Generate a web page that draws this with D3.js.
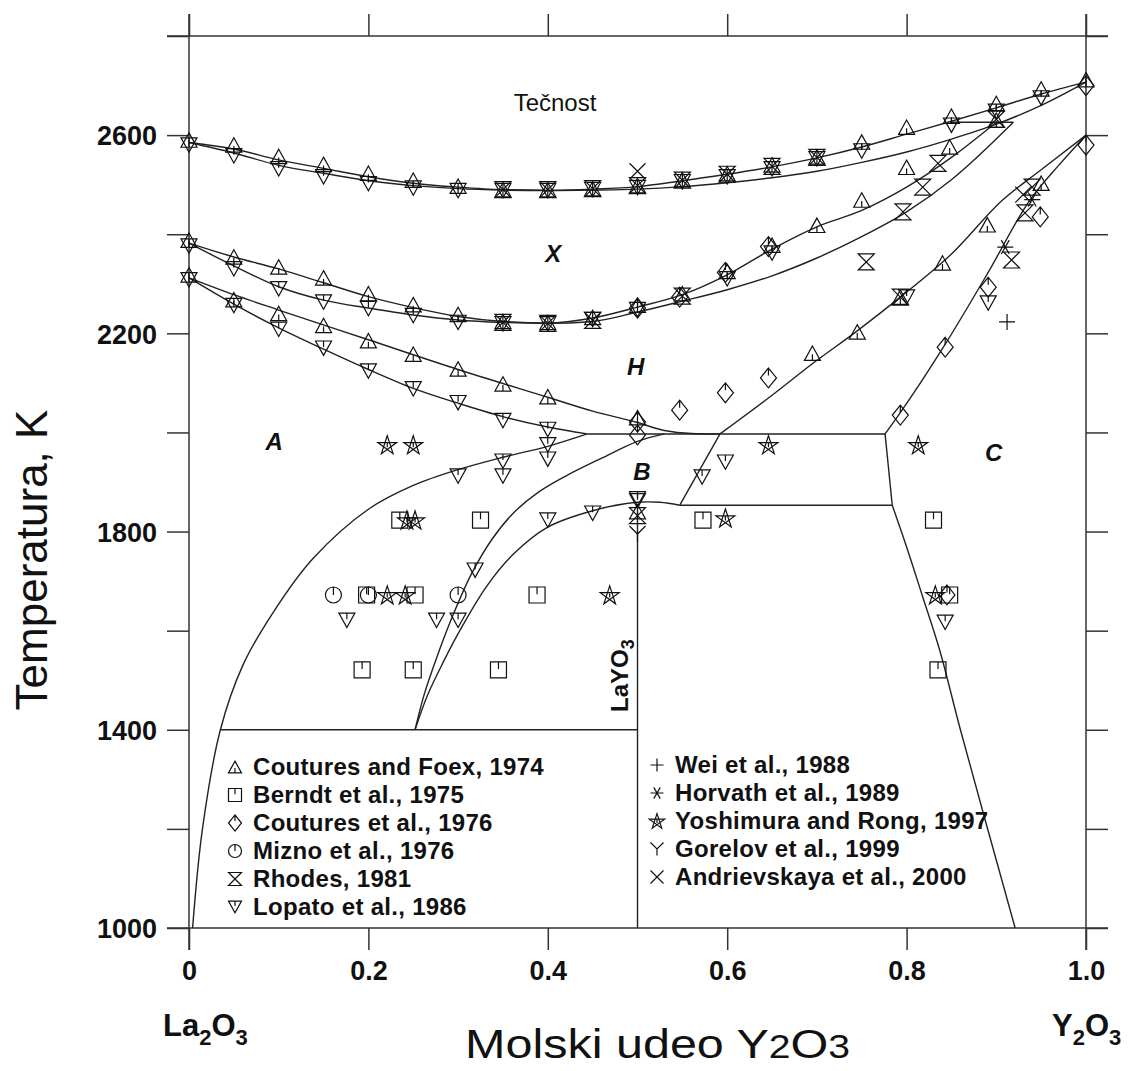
<!DOCTYPE html>
<html><head><meta charset="utf-8">
<script src="https://cdn.jsdelivr.net/npm/d3@7"></script>
<style>
body{margin:0;background:#fff}
svg{display:block}
text{font-family:"Liberation Sans",Arial,Helvetica,sans-serif;fill:#111}
</style></head><body>
<svg id="chart" width="1133" height="1071"></svg>
<script>
// phase boundaries [mole fraction Y2O3, T in K]
var liquidus = [[0,2585],[0.05,2572],[0.1,2550],[0.15,2533],[0.2,2516],[0.25,2503],[0.3,2495],[0.35,2490],[0.4,2489],[0.45,2491],[0.5,2496],[0.55,2508],[0.6,2521],[0.65,2536],[0.7,2554],[0.75,2576],[0.8,2602],[0.85,2628],[0.9,2655],[0.95,2683],[1,2707]];
var solidus = [[0,2585],[0.05,2564],[0.1,2539],[0.15,2523],[0.2,2508],[0.25,2498],[0.3,2492],[0.35,2489],[0.4,2488],[0.45,2489],[0.5,2491],[0.55,2496],[0.6,2504],[0.65,2514],[0.7,2527],[0.75,2545],[0.8,2566],[0.85,2592],[0.9,2622],[0.95,2660],[1,2707]];
var peritectic = [[0.848,2626],[0.919,2626]];
var xUpper = [[0,2382],[0.05,2354],[0.1,2330],[0.15,2302],[0.2,2274],[0.25,2252],[0.3,2234],[0.35,2224],[0.4,2221],[0.45,2231],[0.5,2253],[0.55,2278],[0.6,2318],[0.65,2370],[0.7,2415],[0.75,2448],[0.8,2495],[0.85,2555],[0.9,2626]];
var xLower = [[0,2382],[0.05,2336],[0.1,2294],[0.15,2267],[0.2,2251],[0.25,2237],[0.3,2227],[0.35,2222],[0.4,2220],[0.45,2224],[0.5,2243],[0.55,2265],[0.6,2288],[0.65,2316],[0.7,2352],[0.75,2395],[0.8,2445],[0.85,2510],[0.919,2626]];
var hUpper = [[0,2312],[0.05,2278],[0.1,2247],[0.2,2187],[0.3,2127],[0.4,2071],[0.45,2043],[0.5,2020],[0.53,2004],[0.56,1998],[0.592,1997]];
var hLower = [[0,2312],[0.05,2259],[0.1,2211],[0.15,2168],[0.2,2127],[0.25,2089],[0.3,2059],[0.35,2032],[0.4,2011],[0.444,1997]];
var eutectoidHigh = [[0.444,1997],[0.776,1997]];
var aBoundary = [[0.004,1000],[0.015,1200],[0.035,1400],[0.06,1530],[0.095,1640],[0.138,1745],[0.2,1845],[0.25,1893],[0.3,1925],[0.35,1950],[0.4,1972],[0.444,1997]];
var bLeft = [[0.252,1400],[0.262,1470],[0.276,1545],[0.294,1630],[0.315,1715],[0.338,1785],[0.362,1838],[0.39,1880],[0.42,1912],[0.46,1948],[0.5,1982],[0.53,1997]];
var bRight = [[0.252,1400],[0.266,1470],[0.283,1535],[0.305,1610],[0.332,1690],[0.362,1755],[0.399,1808],[0.45,1842],[0.5,1859],[0.525,1859],[0.547,1853]];
var eutectoidLow = [[0.547,1853],[0.784,1853]];
var layo3Line = [[0.5,1853],[0.5,1000]];
var bhLink = [[0.547,1853],[0.592,1997]];
var cStep = [[0.776,1997],[0.784,1853]];
var cLow = [[0.784,1853],[0.8,1769],[0.818,1668],[0.837,1560],[0.86,1400],[0.921,1000]];
var hcUpper = [[0.592,1997],[0.65,2075],[0.696,2140],[0.745,2205],[0.793,2273],[0.85,2360],[0.907,2469],[0.95,2530],[1,2600]];
var cHigh = [[0.776,1997],[0.793,2040],[0.841,2172],[0.89,2320],[0.9375,2469],[0.97,2540],[1,2600]];
var line1400 = [[0.035,1400],[0.5,1400]];

// experimental points
var cf74 = [[0,2590],[0.05,2580],[0.1,2557],[0.15,2541],[0.2,2523],[0.25,2509],[0.3,2497],[0.35,2490],[0.4,2490],[0.45,2492],[0.5,2498],[0.55,2510],[0.6,2522],[0.65,2540],[0.7,2556],[0.75,2586],[0.8,2616],[0.85,2638],[0.9,2664],[0.95,2693],[1,2712],
  [0.75,2469],[0.8,2535],[0.848,2576],[0.9,2630],[0.95,2503],[0.89,2419],[0.84,2342],[0.745,2203],[0.695,2160],[0.793,2273],
  [0,2388],[0.05,2354],[0.1,2334],[0.15,2312],[0.2,2280],[0.25,2258],[0.3,2238],[0.35,2224],[0.4,2222],[0.45,2232],[0.5,2257],[0.55,2280],[0.6,2325],[0.65,2378],[0.7,2418],
  [0,2318],[0.05,2268],[0.1,2240],[0.15,2216],[0.2,2185],[0.25,2158],[0.3,2128],[0.35,2098],[0.4,2072],[0.5,2030],[0.5,1840]];
var berndt75 = [[0.235,1823],[0.325,1823],[0.198,1672],[0.252,1672],[0.388,1672],[0.193,1521],[0.25,1521],[0.345,1521],[0.573,1823],[0.83,1823],[0.835,1521],[0.848,1672]];
var coutures76 = [[0.646,2110],[0.598,2080],[0.547,2045],[0.5,2021],[0.5,1995],[0.793,2035],[0.843,2172],[0.891,2293],[0.949,2435],[0.646,2375],[0.598,2323],[0.547,2273],[0.5,2251],[0.845,1672],[1,2700],[1,2580]];
var mizno76 = [[0.161,1672],[0.2,1672],[0.3,1672]];
var rhodes81 = [[0.35,2490],[0.4,2490],[0.45,2492],[0.5,2498],[0.55,2509],[0.6,2521],[0.65,2537],[0.7,2555],[0.35,2222],[0.4,2220],[0.45,2226],[0.55,2275],
  [0.835,2543],[0.818,2495],[0.796,2445],[0.9,2632],[0.94,2495],[0.932,2443],[0.917,2348],[0.755,2344],[0.793,2273],[0.5,1832]];
var lopato86 = [[0,2580],[0.05,2558],[0.1,2532],[0.15,2516],[0.2,2502],[0.25,2493],[0.3,2488],[0.35,2488],[0.4,2488],[0.45,2490],[0.5,2494],[0.55,2506],[0.6,2516],[0.65,2532],[0.7,2552],[0.75,2568],[0.85,2620],[0.9,2648],[0.95,2675],
  [0,2376],[0.05,2330],[0.1,2290],[0.15,2263],[0.2,2250],[0.25,2236],[0.3,2222],[0.35,2219],[0.4,2219],[0.45,2228],[0.5,2248],[0.6,2310],[0.65,2362],
  [0,2308],[0.05,2256],[0.1,2208],[0.15,2170],[0.2,2124],[0.25,2088],[0.3,2060],[0.35,2024],[0.4,2006],
  [0.4,1975],[0.4,1946],[0.35,1942],[0.35,1912],[0.3,1912],[0.5,1866],
  [0.4,1823],[0.45,1837],[0.5,1862],[0.319,1722],[0.176,1621],[0.276,1621],[0.3,1621],
  [0.598,1940],[0.572,1910],[0.891,2261],[0.8,2273],[0.843,1617]];
var wei88 = [[0.912,2223]];
var horvath89 = [[0.91,2374],[0.94,2470]];
var yoshimura97 = [[0.221,1975],[0.25,1975],[0.243,1823],[0.252,1823],[0.221,1672],[0.241,1672],[0.469,1672],[0.646,1975],[0.813,1975],[0.598,1827],[0.832,1672]];
var gorelov99 = [[0.5,1795]];
var andrievskaya00 = [[0.5,2527],[0.93,2480]];

var xTicks = [0,0.2,0.4,0.6,0.8,1.0];
var xTickLabels = ["0","0.2","0.4","0.6","0.8","1.0"];
var yTicks = [1000,1200,1400,1600,1800,2000,2200,2400,2600,2800];
var yTickLabels = {1000:"1000",1400:"1400",1800:"1800",2200:"2200",2600:"2600"};

var phaseLabels = [["A",0.095,1965],["B",0.505,1905],["C",0.897,1942],["H",0.498,2115],["X",0.406,2343]];

var svg = d3.select("#chart");
var x = d3.scaleLinear().domain([0,1]).range([189,1086]);
var y = d3.scaleLinear().domain([1000,2800]).range([928,36]);

function symPath(type, s){
  var h = s/2, t = s*0.45, d = s*0.62, r = s*0.62;
  switch(type){
    case "triUp": return "M0,"+(-t)+"L"+h+","+t+"L"+(-h)+","+t+"Z M0,"+(t*0.15)+"V"+t;
    case "triDown": return "M"+(-h)+","+(-t)+"L"+h+","+(-t)+"L0,"+t+"Z M0,"+(-t)+"V"+(-t*0.15);
    case "square": return "M"+(-h)+","+(-h)+"H"+h+"V"+h+"H"+(-h)+"Z M0,"+(-h)+"V"+(-h*0.1);
    case "diamond": return "M0,"+(-d)+"L"+h+",0L0,"+d+"L"+(-h)+",0Z M0,"+(-d)+"V"+(-d*0.25);
    case "circle": return "M"+h+",0A"+h+","+h+" 0 1,1 "+(-h)+",0A"+h+","+h+" 0 1,1 "+h+",0Z M0,"+(-h)+"V0";
    case "hourglass": return "M"+(-h)+","+(-h)+"H"+h+"L"+(-h)+","+h+"H"+h+"Z";
    case "star":
      var pts = d3.range(5).map(function(k){ var a = (-90 + k*144)*Math.PI/180; return [r*Math.cos(a), r*Math.sin(a) + s*0.05]; });
      return "M"+pts.map(function(p){return p[0].toFixed(2)+","+p[1].toFixed(2);}).join("L")+"Z M0,"+(-s*0.1)+"V"+(s*0.15);
    case "plus": return "M"+(-h)+",0H"+h+"M0,"+(-h)+"V"+h;
    case "asterisk":
      var c = h*0.5, e = h*0.87;
      return "M"+(-h)+",0H"+h+"M"+(-c)+","+(-e)+"L"+c+","+e+"M"+(-c)+","+e+"L"+c+","+(-e);
    case "Y": return "M"+(-h)+","+(-h)+"L0,0L"+h+","+(-h)+"M0,0V"+h;
    case "cross": return "M"+(-h)+","+(-h)+"L"+h+","+h+"M"+(-h)+","+h+"L"+h+","+(-h);
  }
}

var series = [
  {label:"Coutures and Foex, 1974", type:"triUp", data:cf74},
  {label:"Berndt et al., 1975", type:"square", data:berndt75},
  {label:"Coutures et al., 1976", type:"diamond", data:coutures76},
  {label:"Mizno et al., 1976", type:"circle", data:mizno76},
  {label:"Rhodes, 1981", type:"hourglass", data:rhodes81},
  {label:"Lopato et al., 1986", type:"triDown", data:lopato86},
  {label:"Wei et al., 1988", type:"plus", data:wei88},
  {label:"Horvath et al., 1989", type:"asterisk", data:horvath89},
  {label:"Yoshimura and Rong, 1997", type:"star", data:yoshimura97},
  {label:"Gorelov et al., 1999", type:"Y", data:gorelov99},
  {label:"Andrievskaya et al., 2000", type:"cross", data:andrievskaya00}
];

// frame lines (extend past corners like the original)
var frame = svg.append("g").attr("stroke","#333").attr("stroke-width",1.5);
frame.append("line").attr("x1",x(0)).attr("x2",x(0)).attr("y1",14).attr("y2",950);
frame.append("line").attr("x1",x(1)).attr("x2",x(1)).attr("y1",14).attr("y2",950);
frame.append("line").attr("x1",167).attr("x2",1108).attr("y1",y(2800)).attr("y2",y(2800));
frame.append("line").attr("x1",167).attr("x2",1108).attr("y1",y(1000)).attr("y2",y(1000));

function styleAxis(g){
  g.select(".domain").remove();
  g.selectAll(".tick line").attr("stroke","#333").attr("stroke-width",1.5);
  g.selectAll(".tick text").attr("font-size",27).attr("font-weight","bold").attr("fill","#111");
}
svg.append("g").attr("transform","translate("+x(0)+",0)")
  .call(d3.axisLeft(y).tickValues(yTicks).tickSize(22).tickPadding(10)
    .tickFormat(function(d){ return yTickLabels[d] || ""; }))
  .call(styleAxis);
svg.selectAll(".tick text").attr("dy","0.36em");
svg.append("g").attr("transform","translate("+x(1)+",0)")
  .call(d3.axisRight(y).tickValues(yTicks).tickSize(22).tickFormat(""))
  .call(styleAxis);
svg.append("g").attr("transform","translate(0,"+y(1000)+")")
  .call(d3.axisBottom(x).tickValues(xTicks).tickSize(22).tickPadding(11)
    .tickFormat(function(d,i){ return xTickLabels[i]; }))
  .call(styleAxis);
svg.append("g").attr("transform","translate(0,"+y(2800)+")")
  .call(d3.axisTop(x).tickValues(xTicks).tickSize(22).tickFormat(""))
  .call(styleAxis);

// phase boundary lines
var smooth = d3.line().x(function(d){return x(d[0]);}).y(function(d){return y(d[1]);}).curve(d3.curveMonotoneX);
var round = d3.line().x(function(d){return x(d[0]);}).y(function(d){return y(d[1]);}).curve(d3.curveCatmullRom.alpha(0.5));
var straight = d3.line().x(function(d){return x(d[0]);}).y(function(d){return y(d[1]);});
var curves = [liquidus, solidus, xUpper, xLower, hUpper, hLower, hcUpper, cHigh];
var arcs = [aBoundary, bLeft, bRight, cLow];
var segs = [peritectic, eutectoidHigh, eutectoidLow, layo3Line, bhLink, cStep, line1400];
var lg = svg.append("g").attr("fill","none").attr("stroke","#222").attr("stroke-width",1.4);
lg.selectAll("path.c").data(curves).join("path").attr("class","c").attr("d",smooth);
lg.selectAll("path.a").data(arcs).join("path").attr("class","a").attr("d",round);
lg.selectAll("path.s").data(segs).join("path").attr("class","s").attr("d",straight);

// data markers
var mg = svg.append("g").attr("fill","none").attr("stroke","#111").attr("stroke-width",1.2).attr("stroke-linejoin","miter");
series.forEach(function(s){
  mg.append("g").selectAll("path").data(s.data).join("path")
    .attr("transform",function(d){return "translate("+x(d[0])+","+y(d[1])+")";})
    .attr("d",symPath(s.type,16));
});

// legend
var legL = svg.append("g");
series.forEach(function(s,i){
  var col = i < 6 ? 0 : 1, row = col ? i-6 : i;
  var sx = col ? 657 : 235, ty = (col ? 765 : 767) + row*28;
  legL.append("path").attr("transform","translate("+sx+","+ty+")").attr("d",symPath(s.type,13))
    .attr("fill","none").attr("stroke","#111").attr("stroke-width",1.2);
  legL.append("text").attr("x",sx+18).attr("y",ty+8).attr("font-size",24).attr("font-weight","bold")
    .attr("letter-spacing","0.3").text(s.label);
});

// labels
svg.append("text").attr("x",555).attr("y",111).attr("font-size",24).attr("text-anchor","middle").text("Tečnost");
svg.selectAll("text.ph").data(phaseLabels).join("text").attr("class","ph")
  .attr("x",function(d){return x(d[1]);}).attr("y",function(d){return y(d[2]);})
  .attr("text-anchor","middle").attr("font-size",24).attr("font-weight","bold").attr("font-style","italic")
  .text(function(d){return d[0];});

var lay = svg.append("text").attr("transform","translate(628,712) rotate(-90)")
  .attr("font-size",24).attr("font-weight","bold");
lay.append("tspan").text("LaYO");
lay.append("tspan").attr("font-size",18).attr("dy",6).text("3");

function oxide(xp, parts){
  var t = svg.append("text").attr("x",xp).attr("y",1036).attr("font-size",31).attr("font-weight","bold");
  parts.forEach(function(p){
    t.append("tspan").attr("font-size",p[1]?22:31).attr("dy",p[1]?9:(p[2]||0)).text(p[0]);
  });
}
oxide(163, [["La"],["2",1],["O",0,-9],["3",1]]);
oxide(1052, [["Y"],["2",1],["O",0,-9],["3",1]]);

var xl = svg.append("text").attr("x",465).attr("y",1058).attr("font-size",41)
  .attr("textLength",385).attr("lengthAdjust","spacingAndGlyphs");
xl.append("tspan").text("Molski udeo  Y");
xl.append("tspan").attr("font-size",33).text("2");
xl.append("tspan").text("O");
xl.append("tspan").attr("font-size",33).text("3");

svg.append("text").attr("transform","translate(47,560) rotate(-90)").attr("text-anchor","middle")
  .attr("font-size",44).text("Temperatura, K");
</script></body></html>
